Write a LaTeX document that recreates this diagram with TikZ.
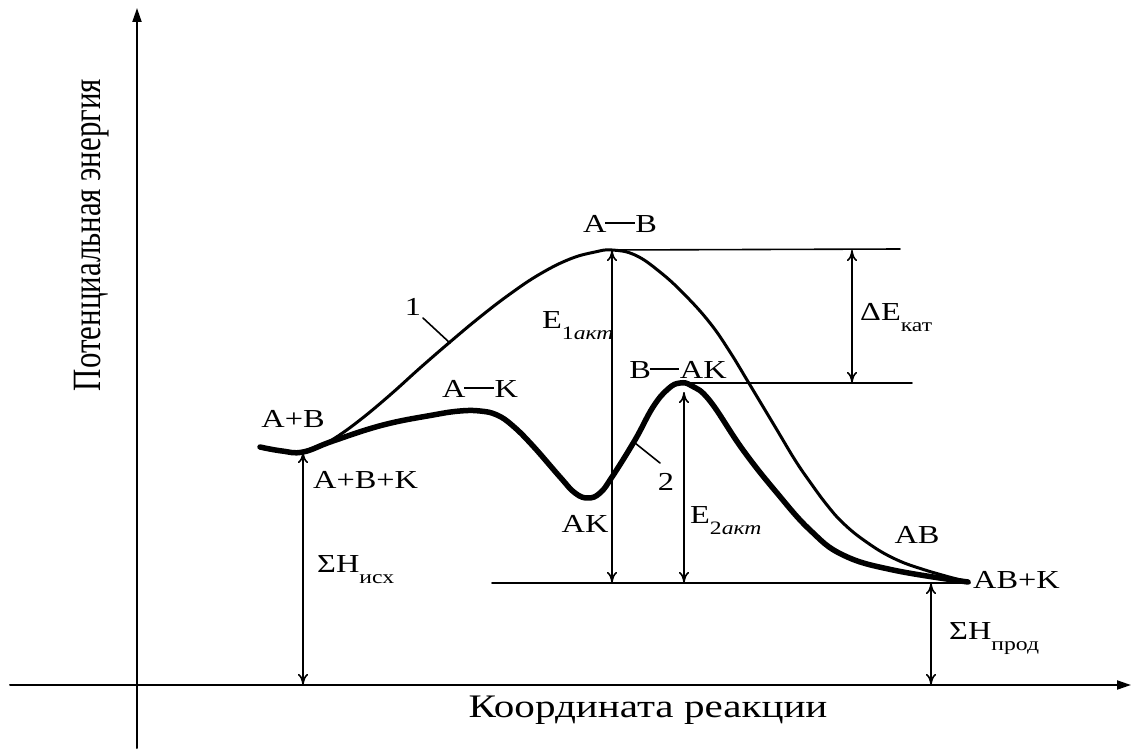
\documentclass[tikz,border=0pt]{standalone}
\usepackage{fontspec}
\setmainfont{Liberation Serif}[FakeStretch=1.25]
\newfontfamily\axisfont{Liberation Serif}
\usetikzlibrary{arrows.meta}
\newcommand{\lowtxt}[1]{\raisebox{-0.45em}{\fontsize{19}{19}\selectfont #1}}
\newcommand{\bondline}{\kern-0.05em\rule[0.3em]{1.15em}{0.075em}\kern0.02em}

\begin{document}
\begin{tikzpicture}[
  x=1bp, y=-1bp, line cap=round, line join=round,
  lbl/.style={font=\fontsize{26}{30}\selectfont, inner sep=0pt, anchor=base},
  axislbl/.style={font=\fontsize{33}{38}\selectfont, inner sep=0pt, anchor=base},
  measure/.style={line width=1.6bp, {To[length=11bp,width=10bp]}-{To[length=11bp,width=10bp]}},
  level/.style={line width=1.6bp},
  axisline/.style={line width=2bp, -{Triangle[length=14bp,width=9bp]}}]

\useasboundingbox (0,0) rectangle (1132,751);

% ---- axes -------------------------------------------------------------
\coordinate (ytop) at (137,8);
\coordinate (ybot) at (137,748);
\coordinate (xleft) at (10,685);
\coordinate (xright) at (1131,685);
\draw[axisline] (ybot) -- (ytop);
\draw[axisline] (xleft) -- (xright);

\node[axislbl] (xname) at (648,717) {Координата реакции};
\node[axislbl, rotate=90] (yname) at (100,235)
  {\fontsize{31}{36}\selectfont\scalebox{1}[1.3]{\axisfont Потенциальная энергия}};

% ---- key points of the two paths --------------------------------------
\coordinate (start) at (303,452);
\coordinate (peakA) at (612,250);
\coordinate (peakB) at (680,383);
\coordinate (finish) at (968,582);

% ---- path 1, no catalyst ----------------------------------------------
\draw[line width=3bp] plot[smooth, tension=0.7] coordinates {
  (start) (318,447) (335,438) (360,420) (390,395) (420,368) (450,342)
  (480,317) (510,294) (540,274) (570,259) (595,252) (peakA) (635,255)
  (660,272) (685,295) (710,323) (730,352) (750,385) (777,430) (795,460)
  (810,482) (827,505) (843,523) (865,541) (893,558) (925,570) (finish)};

% ---- path 2, with catalyst --------------------------------------------
\draw[line width=5.5bp] plot[smooth, tension=0.7] coordinates {
  (260,447) (282,451) (start) (333,441) (383,425) (433,415) (460,411)
  (480,411) (497,415) (513,426) (533,446) (560,477) (575,493) (588,498)
  (600,493) (612,477) (635,440) (653,407) (668,389) (peakB) (692,386)
  (710,401) (743,450) (777,493) (810,530) (843,555) (893,570) (finish)};

% ---- levels -----------------------------------------------------------
\coordinate (topend) at (900,249);
\coordinate (midend) at (912,383);
\coordinate (lowbeg) at (492,583);
\coordinate (lowend) at (970,583);
\draw[level] (peakA) -- (topend);
\draw[level] (peakB) -- (midend);
\draw[level] (lowbeg) -- (lowend);

% ---- energy arrows ----------------------------------------------------
\coordinate (e1bot) at (612,583);
\coordinate (e2top) at (684,392);
\coordinate (e2bot) at (684,583);
\coordinate (dtop) at (852,250);
\coordinate (dbot) at (852,383);
\coordinate (hsbot) at (303,685);
\coordinate (hptop) at (931,583);
\coordinate (hpbot) at (931,685);
\draw[measure] (peakA) -- (e1bot);
\draw[measure] (e2top) -- (e2bot);
\draw[measure] (dtop) -- (dbot);
\draw[measure] (start) -- (hsbot);
\draw[measure] (hptop) -- (hpbot);

% ---- curve numbers ----------------------------------------------------
\coordinate (lead1a) at (423,318);
\coordinate (lead1b) at (450,343);
\coordinate (lead2a) at (635,443);
\coordinate (lead2b) at (660,463);
\draw[level] (lead1a) -- (lead1b);
\draw[level] (lead2a) -- (lead2b);
\node[lbl] (n1) at (413,315) {1};
\node[lbl] (n2) at (666,490) {2};

% ---- labels -----------------------------------------------------------
\node[lbl] (ab) at (620,232) {A\bondline B};
\node[lbl] (apb) at (293,427) {A+B};
\node[lbl, anchor=base west] (apbpk) at (313,488) {A+B+K};
\node[lbl] (ak) at (480,397) {A\bondline K};
\node[lbl] (akmin) at (585,532) {AK};
\node[lbl] (bak) at (678,378) {B\bondline AK};
\node[lbl] (prod) at (917,543) {AB};
\node[lbl, anchor=base west] (prodk) at (973,588) {AB+K};
\node[lbl, anchor=base west] (e1) at (542,328) {E\lowtxt{1\textit{акт}}};
\node[lbl, anchor=base west] (e2) at (690,523) {E\lowtxt{2\textit{акт}}};
\node[lbl, anchor=base west] (de) at (860,320) {ΔE\lowtxt{кат}};
\node[lbl, anchor=base west] (hs) at (317,572) {ΣH\lowtxt{исх}};
\node[lbl, anchor=base west] (hp) at (949,639) {ΣH\lowtxt{прод}};

\end{tikzpicture}
\end{document}
